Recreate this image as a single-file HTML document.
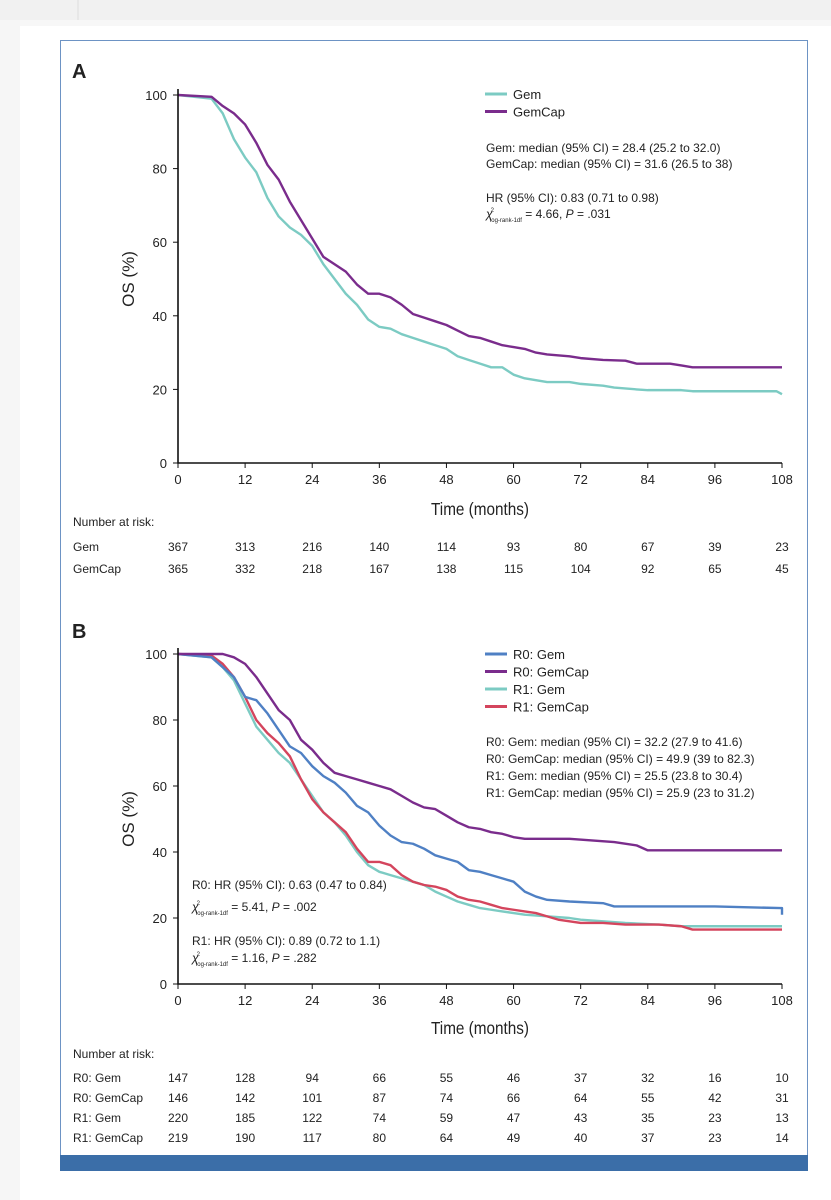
<!DOCTYPE html>
<html><head><meta charset="utf-8"><style>
body{margin:0;width:831px;height:1200px;background:#fff;overflow:hidden;font-family:"Liberation Sans",sans-serif}
svg{position:absolute;left:0;top:0}
text{font-family:"Liberation Sans",sans-serif;fill:#222}
</style></head><body>
<svg id="s" width="831" height="1200">
<rect x="0" y="0" width="831" height="20" fill="#f1f1f1"/>
<rect x="0" y="20" width="831" height="6" fill="#f7f7f7"/>
<line x1="78" y1="0" x2="78" y2="20" stroke="#ddd"/>
<rect x="0" y="20" width="20" height="1180" fill="#f6f6f6"/>
<rect x="60.5" y="40.5" width="747" height="1129" fill="#fff" stroke="#6d93c4"/>
<rect x="60" y="1155" width="748" height="16" fill="#3b6ea8"/>
<text x="72" y="78" font-size="20" font-weight="bold">A</text>
<text x="72" y="638" font-size="20" font-weight="bold">B</text>
<g id="ga"></g><g id="gb"></g>
</svg>
<script>
const ticksX=[0,12,24,36,48,60,72,84,96,108];
const ticksY=[0,20,40,60,80,100];
const aGemT=[0,6,8,10,12,14,16,18,20,22,24,26,28,30,32,34,36,38,40,42,44,46,48,50,52,54,56,58,60,62,64,66,70,72,76,78,82,84,90,92,107,108];
const aGemV=[100,99,95,88,83,79,72,67,64,62,59,54,50,46,43,39,37,36.5,35,34,33,32,31,29,28,27,26,26,24,23,22.5,22,22,21.5,21,20.5,20,19.8,19.8,19.5,19.5,18.7];
const aCapT=[0,6,8,10,12,14,16,18,20,22,24,26,28,30,32,34,36,38,40,42,44,46,48,50,52,54,56,58,60,62,64,66,70,72,76,80,82,88,90,92,108];
const aCapV=[100,99.5,97,95,92,87,81,77,71,66,61,56,54,52,48.5,46,46,45,43,40.5,39.5,38.5,37.5,36,34.5,34,33,32,31.5,31,30,29.5,29,28.5,28,27.8,27,27,26.5,26,26];
const b0GemT=[0,6,8,10,12,14,16,18,20,22,24,26,28,30,32,34,36,38,40,42,44,46,48,50,52,54,56,58,60,62,64,66,70,76,78,96,107.8,108];
const b0GemV=[100,99,96,93,87,86,82,77,72,70,66,63,61,58,54,52,48,45,43,42.5,41,39,38,37,34.5,34,33,32,31,28,26.5,25.5,25,24.5,23.5,23.5,23,21];
const b0CapT=[0,8,10,12,14,16,18,20,22,24,26,28,30,32,34,36,38,40,42,44,46,48,50,52,54,56,58,60,62,66,70,74,78,82,84,108];
const b0CapV=[100,100,99,97,93,88,83,80,74,71,67,64,63,62,61,60,59,57,55,53.5,53,51,49,47.5,47,46,45.5,44.5,44,44,44,43.5,43,42,40.5,40.5];
const b1GemT=[0,6,8,10,12,14,16,18,20,22,24,26,28,30,32,34,36,38,40,42,44,46,48,50,52,54,56,58,60,62,66,70,72,76,80,86,90,108];
const b1GemV=[100,99,96,92,85,78,74,70,67,62,57,52,49,45,40,36,34,33,32,31,30,28,26.5,25,24,23,22.5,22,21.5,21,20.5,20,19.5,19,18.5,18,17.5,17.5];
const b1CapT=[0,6,8,10,12,14,16,18,20,22,24,26,28,30,32,34,36,38,40,42,44,46,48,50,52,54,56,58,60,62,64,66,68,70,72,76,80,86,90,92,108];
const b1CapV=[100,99.5,97,93,87,80,76,73,69,62,56,52,49,46,41,37,37,36,33,31,30,29.5,28.5,26.5,25.5,25,24,23,22.5,22,21.5,20.5,19.5,19,18.5,18.5,18,18,17.5,16.5,16.5];
const riskA=[["Gem",[367,313,216,140,114,93,80,67,39,23]],["GemCap",[365,332,218,167,138,115,104,92,65,45]]];
const riskB=[["R0: Gem",[147,128,94,66,55,46,37,32,16,10]],["R0: GemCap",[146,142,101,87,74,66,64,55,42,31]],["R1: Gem",[220,185,122,74,59,47,43,35,23,13]],["R1: GemCap",[219,190,117,80,64,49,40,37,23,14]]];
const NS="http://www.w3.org/2000/svg";
function mk(p,tag,at,txt){const e=document.createElementNS(NS,tag);for(const k in at)e.setAttribute(k,at[k]);if(txt!==undefined)e.textContent=txt;p.appendChild(e);return e;}
function panel(g,y0,y100,series,tableY,rows,rowH,timeY){
  const X=t=>178+t*(604/108), Y=v=>y0-(y0-y100)*v/100;
  for(const s of series){
    let d="M"+X(s.t[0])+","+Y(s.v[0]);
    for(let i=1;i<s.t.length;i++){
      const flat=s.v[i]===s.v[i-1]||i===s.t.length-1&&s.t[i]-s.t[i-1]<1;
      d+=flat?" H"+X(s.t[i])+" V"+Y(s.v[i]):" L"+X(s.t[i])+","+Y(s.v[i]);
    }
    const p=mk(g,"path",{d:d,fill:"none",stroke:s.c,"stroke-width":2.4,"stroke-linejoin":"round"});
    
    
  }
  const ax=mk(g,"path",{d:`M178,${y100-6} V${y0} H${X(108)}`,fill:"none",stroke:"#111","stroke-width":1.6});
  
  
  for(const t of ticksX){
    mk(g,"line",{x1:X(t),x2:X(t),y1:y0,y2:y0+5,stroke:"#111"});
    const l=mk(g,"text",{x:X(t),y:y0+21,"font-size":13,"text-anchor":"middle"},t);
    
    
  }
  for(const v of ticksY){
    mk(g,"line",{x1:173,x2:178,y1:Y(v),y2:Y(v),stroke:"#111"});
    const l=mk(g,"text",{x:167,y:Y(v)+5,"font-size":13,"text-anchor":"end"},v);
    
    
  }
  const xt=mk(g,"text",{x:480,y:timeY,"font-size":18,"text-anchor":"middle",transform:`translate(480 ${timeY}) scale(0.85 1) translate(-480 ${-timeY})`},"Time (months)");
  
  
  const yc=(y0+y100)/2;
  const yt=mk(g,"text",{x:0,y:0,"font-size":17,"text-anchor":"middle",transform:`translate(134 ${yc}) rotate(-90)`},"OS (%)");
  
  
  const nr=mk(g,"text",{x:73,y:tableY,"font-size":12},"Number at risk:");
  
  
  rows.forEach((r,i)=>{
    const yy=tableY+(i+1)*rowH+(rowH>21?3:4);
    const lb=mk(g,"text",{x:73,y:yy,"font-size":12},r[0]);
    
    
    r[1].forEach((n,j)=>{
      const c=mk(g,"text",{x:X(ticksX[j]),y:yy,"font-size":12,"text-anchor":"middle"},n);
      
      
    });
  });
}
function legend(g,x,y,items){
  items.forEach((it,i)=>{
    mk(g,"line",{x1:x,x2:x+22,y1:y+i*17.5,y2:y+i*17.5,stroke:it[1],"stroke-width":3});
    const t=mk(g,"text",{x:x+28,y:y+i*17.5+5,"font-size":13},it[0]);
    
    
  });
}
function txt(g,x,y,s,name,sz){const t=mk(g,"text",{x:x,y:y,"font-size":sz||12},s);return t;}
function chi(g,x,y,rest){
  const t=mk(g,"text",{x:x,y:y,"font-size":12});
  
  
  t.innerHTML=`<tspan font-style="italic">χ</tspan><tspan font-size="6" dy="-6" dx="-2">2</tspan><tspan font-size="6" dy="10" dx="-4">log-rank-1df</tspan><tspan dy="-4"> ${rest}</tspan>`;
}
const ga=document.getElementById('ga'),gb=document.getElementById('gb');
const TEAL="#7ccbc3",PURP="#7a2c8c",BLUE="#4f80c4",RED="#d4455d";
panel(ga,463,95,[{t:aGemT,v:aGemV,c:TEAL,n:"gem-curve"},{t:aCapT,v:aCapV,c:PURP,n:"gemcap-curve"}],526,riskA,22,515);
legend(ga,485,94,[["Gem",TEAL],["GemCap",PURP]]);
txt(ga,486,152,"Gem: median (95% CI) =  28.4 (25.2 to 32.0)","median-gem");
txt(ga,486,168,"GemCap: median (95% CI) =  31.6 (26.5 to 38)","median-gemcap");
txt(ga,486,202,"HR (95% CI): 0.83 (0.71 to 0.98)","hazard-ratio");
chi(ga,486,218,"= 4.66, <tspan font-style='italic'>P</tspan> = .031");
panel(gb,984,654,[{t:b1GemT,v:b1GemV,c:TEAL,n:"r1-gem-curve"},{t:b1CapT,v:b1CapV,c:RED,n:"r1-gemcap-curve"},{t:b0GemT,v:b0GemV,c:BLUE,n:"r0-gem-curve"},{t:b0CapT,v:b0CapV,c:PURP,n:"r0-gemcap-curve"}],1058,riskB,20,1034);
legend(gb,485,654,[["R0: Gem",BLUE],["R0: GemCap",PURP],["R1: Gem",TEAL],["R1: GemCap",RED]]);
txt(gb,486,746,"R0: Gem: median (95% CI) =  32.2 (27.9 to 41.6)","median-r0-gem");
txt(gb,486,763,"R0: GemCap: median (95% CI) =  49.9 (39 to 82.3)","median-r0-gemcap");
txt(gb,486,780,"R1: Gem: median (95% CI) =  25.5 (23.8 to 30.4)","median-r1-gem");
txt(gb,486,797,"R1: GemCap: median (95% CI) =  25.9 (23 to 31.2)","median-r1-gemcap");
txt(gb,192,889,"R0: HR (95% CI): 0.63 (0.47 to 0.84)","hr-r0");
chi(gb,192,911,"= 5.41, <tspan font-style='italic'>P</tspan> = .002");
txt(gb,192,945,"R1: HR (95% CI): 0.89 (0.72 to 1.1)","hr-r1");
chi(gb,192,962,"= 1.16, <tspan font-style='italic'>P</tspan> = .282");
</script>
</body></html>
